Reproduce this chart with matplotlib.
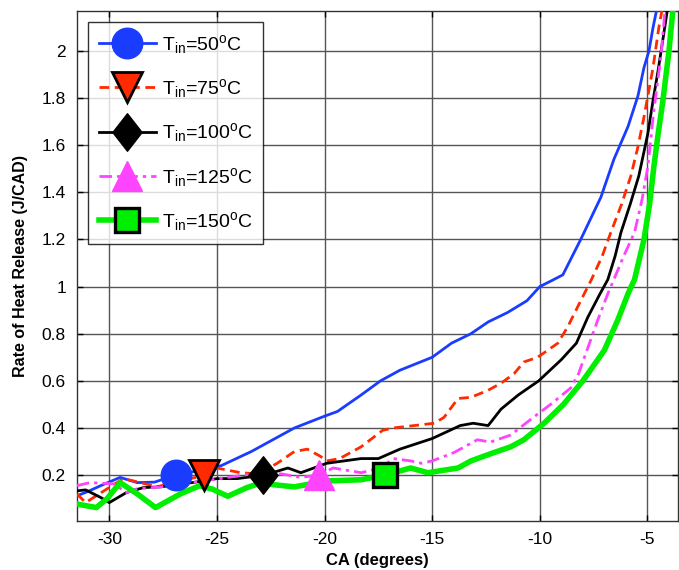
import numpy as np
import matplotlib
matplotlib.use("Agg")
import matplotlib.pyplot as plt
from matplotlib.path import Path

plt.rcParams['font.family'] = ['Liberation Sans', 'DejaVu Sans']
plt.rcParams['mathtext.fontset'] = 'custom'
plt.rcParams['mathtext.rm'] = 'Liberation Sans'
plt.rcParams['mathtext.it'] = 'Liberation Sans'

# ---- data ----
x_50 = [-31.5, -31.0, -30.4, -29.5, -28.7, -27.9, -26.9, -25.8, -24.8, -23.4, -22.2, -21.4, -20.0, -19.4,
        -18.3, -17.4, -16.5, -15.0, -14.1, -13.2, -12.4, -11.5, -10.6, -10.0, -9.35, -8.93, -8.1, -7.16,
        -6.56, -5.9, -5.44, -5.16, -4.93, -4.74, -4.56, -4.5]
y_50 = [0.112, 0.13, 0.155, 0.19, 0.168, 0.17, 0.20, 0.22, 0.24, 0.30, 0.36, 0.40, 0.45, 0.47,
        0.54, 0.60, 0.645, 0.70, 0.76, 0.80, 0.85, 0.89, 0.94, 1.0, 1.03, 1.05, 1.2, 1.38,
        1.54, 1.68, 1.81, 1.93, 2.0, 2.10, 2.18, 2.22]

x_75 = [-31.5, -31.1, -30.3, -29.35, -28.55, -27.8, -26.0, -25.0, -23.9, -23.1, -22.2, -21.4, -20.8, -20.2,
        -19.9, -19.3, -18.3, -17.3, -16.8, -14.9, -14.45, -13.8, -13.2, -12.4, -11.8, -11.2, -10.74, -10.1,
        -9.16, -8.7, -8.1, -7.6, -7.1, -6.7, -6.2, -5.77, -5.45, -5.16, -4.94, -4.74, -4.47, -4.23]
y_75 = [0.12, 0.083, 0.13, 0.185, 0.168, 0.15, 0.19, 0.23, 0.21, 0.205, 0.25, 0.30, 0.31, 0.28,
        0.26, 0.27, 0.32, 0.39, 0.40, 0.42, 0.445, 0.525, 0.53, 0.56, 0.59, 0.63, 0.68, 0.70,
        0.76, 0.83, 0.94, 1.03, 1.13, 1.23, 1.35, 1.47, 1.59, 1.72, 1.83, 1.93, 2.10, 2.22]

x_100 = [-31.5, -31.1, -30.4, -30.0, -29.2, -28.4, -27.6, -26.0, -25.0, -24.05, -22.8, -21.7, -21.1, -19.9,
         -18.3, -17.5, -16.5, -15.0, -13.7, -13.1, -12.4, -11.8, -11.0, -10.05, -9.0, -8.3, -7.77, -7.2,
         -6.84, -6.5, -6.23, -5.8, -5.4, -4.98, -4.74, -4.5, -4.23, -4.0]
y_100 = [0.133, 0.137, 0.105, 0.083, 0.126, 0.147, 0.15, 0.17, 0.185, 0.185, 0.20, 0.23, 0.21, 0.25,
         0.27, 0.27, 0.31, 0.355, 0.41, 0.42, 0.41, 0.48, 0.54, 0.60, 0.69, 0.76, 0.87, 0.97,
         1.03, 1.13, 1.23, 1.35, 1.47, 1.65, 1.79, 1.92, 2.08, 2.22]

x_125 = [-31.5, -30.9, -29.8, -29.2, -28.7, -27.6, -26.0, -24.5, -23.0, -22.0, -21.1, -20.3, -19.6, -18.3,
         -17.4, -16.8, -16.0, -15.5, -15.0, -14.0, -12.9, -12.3, -11.35, -10.3, -9.5, -8.56, -8.2, -7.77,
         -7.3, -6.84, -6.56, -6.1, -5.6, -5.25, -4.98, -4.7, -4.37, -4.14]
y_125 = [0.155, 0.168, 0.163, 0.126, 0.142, 0.15, 0.17, 0.19, 0.21, 0.205, 0.19, 0.20, 0.23, 0.21,
         0.23, 0.27, 0.26, 0.25, 0.26, 0.295, 0.35, 0.34, 0.37, 0.445, 0.50, 0.57, 0.63, 0.74,
         0.86, 0.97, 1.03, 1.13, 1.23, 1.37, 1.51, 1.75, 1.98, 2.22]

x_150 = [-31.5, -30.6, -30.1, -29.5, -28.7, -27.85, -26.7, -25.8, -25.2, -24.5, -23.6, -23.0, -21.4, -19.9,
         -18.3, -17.2, -16.0, -15.2, -13.8, -13.2, -12.3, -11.35, -10.74, -9.8, -8.9, -8.0, -7.0, -6.37,
         -5.9, -5.6, -5.16, -4.9, -4.7, -4.5, -4.28, -4.0, -3.77]
y_150 = [0.077, 0.062, 0.10, 0.168, 0.12, 0.062, 0.12, 0.155, 0.14, 0.11, 0.147, 0.165, 0.15, 0.175,
         0.18, 0.20, 0.23, 0.21, 0.23, 0.26, 0.29, 0.32, 0.35, 0.42, 0.50, 0.60, 0.73, 0.86,
         0.97, 1.03, 1.2, 1.35, 1.51, 1.65, 1.79, 2.0, 2.22]

marker_x = [-26.9, -25.6, -22.85, -20.25, -17.2]
marker_y = [0.2, 0.2, 0.2, 0.2, 0.2]
labels = ['T$_{in}$=50$^{o}$C', 'T$_{in}$=75$^{o}$C', 'T$_{in}$=100$^{o}$C',
          'T$_{in}$=125$^{o}$C', 'T$_{in}$=150$^{o}$C']

xticks = [-30, -25, -20, -15, -10, -5]
yticks = [0.2, 0.4, 0.6, 0.8, 1.0, 1.2, 1.4, 1.6, 1.8, 2.0]
ytick_labels = ['0.2', '0.4', '0.6', '0.8', '1', '1.2', '1.4', '1.6', '1.8', '2']

# tall diamond marker
tall_diamond = Path([(0, 1), (0.78, 0), (0, -1), (-0.78, 0), (0, 1)],
                    [Path.MOVETO, Path.LINETO, Path.LINETO, Path.LINETO, Path.CLOSEPOLY])

# ---- styling ----
series = [
    (x_50, y_50, dict(color='#1a3cff', ls='-', lw=2.0), dict(marker='o', ms=22, mfc='#1a3cff', mec='#1a3cff', mew=1)),
    (x_75, y_75, dict(color='#ff2a00', ls=(0, (3.5, 2)), lw=2.0), dict(marker='v', ms=22, mfc='#ff2a00', mec='black', mew=2)),
    (x_100, y_100, dict(color='black', ls='-', lw=2.0), dict(marker=tall_diamond, ms=27, mfc='black', mec='black', mew=1)),
    (x_125, y_125, dict(color='#ff44ff', ls=(0, (4.5, 1.8, 1.2, 1.8)), lw=2.0), dict(marker='^', ms=22, mfc='#ff44ff', mec='#ff44ff', mew=1)),
    (x_150, y_150, dict(color='#00ee00', ls='-', lw=4.0), dict(marker='s', ms=17, mfc='#00ee00', mec='black', mew=2.4)),
]

fig = plt.figure(figsize=(6.79, 5.70), dpi=100)
ax = fig.add_axes([77/679, 1-521/570, (678-77)/679, (521-11)/570])

handles = []
for i, (xs, ys, lst, mst) in enumerate(series):
    ax.plot(xs, ys, zorder=3, **lst)
    ax.plot([marker_x[i]], [marker_y[i]], ls='none', zorder=4, **mst)
    h, = ax.plot([], [], **lst, **mst)
    handles.append(h)

ax.set_xlim(-31.5, -3.58)
ax.set_ylim(0.005, 2.17)
ax.set_xticks(xticks)
ax.set_xticklabels([str(t) for t in xticks])
ax.set_yticks(yticks)
ax.set_yticklabels(ytick_labels)
ax.grid(True, color='#555555', lw=1.0, ls='-')
ax.set_axisbelow(True)
ax.tick_params(direction='in', length=4, width=1, top=True, right=True, labelsize=12.5, pad=8)
for s in ax.spines.values():
    s.set_color('#333333')
    s.set_linewidth(1.0)

ax.set_xlabel('CA (degrees)', fontsize=12, fontweight='bold', labelpad=4)
ax.set_ylabel('Rate of Heat Release (J/CAD)', fontsize=11.5, fontweight='bold', labelpad=10)

leg = fig.legend(handles, labels, loc='upper left', bbox_to_anchor=(88/679, 1-22/570),
                 fontsize=14, handlelength=2.95, handletextpad=0.3, labelspacing=1.1,
                 borderpad=0.55, frameon=True, fancybox=False, borderaxespad=0)
leg.get_frame().set_edgecolor('black')
leg.get_frame().set_linewidth(1.0)

fig.savefig('out.png', dpi=100)
